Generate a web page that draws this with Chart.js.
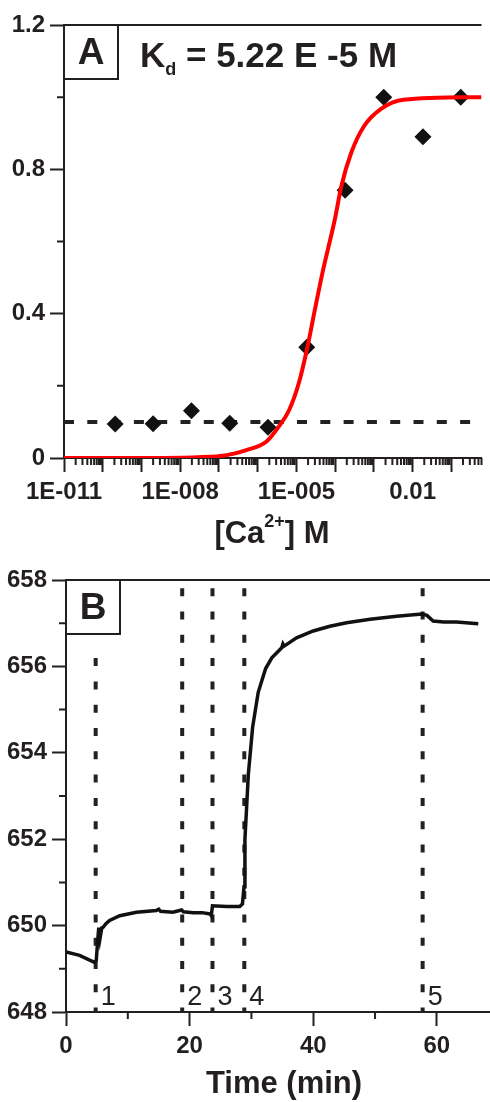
<!DOCTYPE html>
<html>
<head>
<meta charset="utf-8">
<script src="https://cdn.jsdelivr.net/npm/chart.js@4.4.0/dist/chart.umd.min.js"></script>
<style>
	body { margin: 0; background: #fff; width: 490px; height: 1102px; overflow: hidden; position: relative; }
	#boxA { position: absolute; left: 0; top: 0; }
	#boxB { position: absolute; left: 0; top: 560px; }
</style>
</head>
<body>
<div id="boxA"><canvas id="chartA" width="490" height="560"></canvas></div>
<div id="boxB"><canvas id="chartB" width="490" height="542"></canvas></div>

<script>
	// Panel A - calcium titration
	var concA = [2.1e-10, 2.0e-9, 1.95e-8, 1.9e-7, 1.85e-6, 1.85e-5, 1.8e-4, 1.8e-3, 1.85e-2, 1.75e-1];
	var fracA = [0.094, 0.095, 0.131, 0.096, 0.085, 0.307, 0.742, 1.0, 0.89, 1.0];
	// fitted curve
	var fitConc = [1e-11, 1.5e-9, 2.75e-8, 1.6e-7, 5.1e-7, 1.66e-6, 3.5e-6, 6.5e-6, 1.15e-5, 1.86e-5, 3.0e-5, 4.9e-5, 9.8e-5, 1.45e-4, 2.6e-4, 5.6e-4, 1.5e-3, 5.8e-3, 0.6];
	var fitFrac = [0, 0, 0.002, 0.008, 0.022, 0.045, 0.087, 0.133, 0.207, 0.30, 0.411, 0.522, 0.661, 0.754, 0.846, 0.92, 0.967, 0.993, 1.0];
	var baseLevel = 0.1;
	var xTickValsA = [1e-11, 1e-8, 1e-5, 0.01];
	var xTickLabelsA = ['1E-011', '1E-008', '1E-005', '0.01'];
	var yTickValsA = [0, 0.4, 0.8, 1.2];
	var yTickLabelsA = ['0', '0.4', '0.8', '1.2'];
	var yMinorA = [0.2, 0.6, 1.0];

	// Panel B - time trace
	var timeB = [0, 2.2, 4.6, 4.9, 5.1, 5.3, 5.5, 5.8, 6.0, 6.5, 7.05, 8.7, 11.4, 14.6, 15.0, 15.3, 17.3, 18.7, 19.0, 20.6,
		22.0, 23.3, 23.5, 23.7, 26.0, 28.1, 28.55, 28.8, 28.95, 29.5, 30.2, 31.1, 32.3, 33.3, 34.9, 35.1, 35.3, 37.3, 40.0, 42.7,
		45.4, 49.2, 53.5, 57.6, 58.4, 59.4, 61.1, 63.2, 66.7];
	var signalB = [649.39, 649.31, 649.15, 649.2, 649.6, 649.95, 649.7, 649.95, 649.96, 650.05, 650.12, 650.23, 650.31, 650.35, 650.38, 650.33, 650.31, 650.36, 650.32, 650.30,
		650.30, 650.27, 650.23, 650.46, 650.44, 650.44, 650.5, 650.9, 652.0, 653.5, 654.6, 655.4, 655.95, 656.2, 656.43, 656.52, 656.47, 656.66, 656.82, 656.93,
		657.01, 657.09, 657.16, 657.21, 657.18, 657.05, 657.03, 657.03, 656.99];
	var eventTimes = [4.8, 18.8, 23.7, 28.85, 57.7];
	var eventTops = [656.4, 658, 658, 658, 658];
	var eventLabels = ['1', '2', '3', '4', '5'];
	var xTickValsB = [0, 20, 40, 60];
	var xTickLabelsB = ['0', '20', '40', '60'];
	var xMinorB = [10, 30, 50];
	var yTickValsB = [648, 650, 652, 654, 656, 658];
	var yTickLabelsB = ['648', '650', '652', '654', '656', '658'];
	var yMinorB = [649, 651, 653, 655, 657];

	var ink = '#231f20';
	var fam = "'Liberation Sans', Arial, sans-serif";
	var tickFont = { family: fam, size: 24, weight: 'bold' };

	// log axis ticks: one per decade, minor at 2..9
	var majorXA = [];
	var minorXA = [];
	for (var d = -11; d <= -1; d++) {
		majorXA.push(Number('1e' + d));
		for (var k = 2; k <= 9; k++) {
			var mv = Number(k + 'e' + d);
			if (mv <= 0.6) minorXA.push(mv);
		}
	}

	function labelFor(vals, labels, v, log) {
		for (var i = 0; i < vals.length; i++) {
			var diff = log ? Math.abs(Math.log10(v) - Math.log10(vals[i])) : Math.abs(v - vals[i]);
			if (diff < 1e-6) return labels[i];
		}
		return '';
	}

	function drawMinorAndFrame(chart, minorX, minorY) {
		var ctx = chart.ctx, a = chart.chartArea;
		var xs = chart.scales.x, ys = chart.scales.y;
		ctx.save();
		ctx.strokeStyle = ink;
		ctx.lineWidth = 2;
		ctx.beginPath();
		ctx.moveTo(a.left, a.top);
		ctx.lineTo(a.right, a.top);
		minorX.forEach(function(v) {
			var px = xs.getPixelForValue(v);
			ctx.moveTo(px, a.bottom);
			ctx.lineTo(px, a.bottom + 7);
		});
		minorY.forEach(function(v) {
			var py = ys.getPixelForValue(v);
			ctx.moveTo(a.left, py);
			ctx.lineTo(a.left - 7, py);
		});
		ctx.stroke();
		ctx.restore();
	}

	function drawPanelBox(chart, letter) {
		var ctx = chart.ctx, a = chart.chartArea;
		ctx.save();
		ctx.strokeStyle = ink;
		ctx.lineWidth = 2;
		ctx.strokeRect(a.left, a.top, 54, 54);
		ctx.fillStyle = ink;
		ctx.font = 'bold 37px ' + fam;
		ctx.textAlign = 'center';
		ctx.textBaseline = 'alphabetic';
		ctx.fillText(letter, a.left + 27, a.top + 39);
		ctx.restore();
	}

	// draws text pieces in a row, with raised / lowered parts
	function drawRich(ctx, parts, x, baseline, center) {
		var w = 0;
		parts.forEach(function(p) {
			ctx.font = 'bold ' + p.size + 'px ' + fam;
			p.w = ctx.measureText(p.t).width;
			w += p.w;
		});
		var cx = center ? x - w / 2 : x;
		ctx.textAlign = 'left';
		ctx.textBaseline = 'alphabetic';
		parts.forEach(function(p) {
			ctx.font = 'bold ' + p.size + 'px ' + fam;
			ctx.fillText(p.t, cx, baseline + (p.dy || 0));
			cx += p.w;
		});
	}

	var decorA = {
		id: 'decorA',
		afterDraw: function(chart) {
			drawMinorAndFrame(chart, minorXA, yMinorA);
			drawPanelBox(chart, 'A');
			var ctx = chart.ctx;
			ctx.save();
			ctx.fillStyle = ink;
			drawRich(ctx, [
				{ t: 'K', size: 35 },
				{ t: 'd', size: 18, dy: 8 },
				{ t: ' = 5.22 E -5 M', size: 35 }
			], 140, 67, false);
			drawRich(ctx, [
				{ t: '[Ca', size: 31 },
				{ t: '2+', size: 18, dy: -16 },
				{ t: '] M', size: 31 }
			], 272, 543, true);
			ctx.restore();
		}
	};

	var decorB = {
		id: 'decorB',
		afterDraw: function(chart) {
			drawMinorAndFrame(chart, xMinorB, yMinorB);
			drawPanelBox(chart, 'B');
			var ctx = chart.ctx, xs = chart.scales.x, ys = chart.scales.y;
			ctx.save();
			ctx.fillStyle = '#222';
			ctx.font = '500 27px ' + fam;
			ctx.textAlign = 'left';
			ctx.textBaseline = 'alphabetic';
			for (var i = 0; i < eventTimes.length; i++) {
				ctx.fillText(eventLabels[i], xs.getPixelForValue(eventTimes[i]) + 5, ys.getPixelForValue(648) - 7);
			}
			ctx.fillStyle = ink;
			drawRich(ctx, [{ t: 'Time (min)', size: 31 }], 284, 533, true);
			ctx.restore();
		}
	};

	function pairs(xs, ys) {
		return xs.map(function(x, i) { return { x: x, y: ys[i] }; });
	}

	var chartA = new Chart(document.getElementById('chartA').getContext('2d'), {
		type: 'scatter',
		data: {
			datasets: [{
				data: pairs(fitConc, fitFrac),
				showLine: true,
				borderColor: '#ff0000',
				borderWidth: 4,
				pointRadius: 0,
				cubicInterpolationMode: 'monotone'
			}, {
				data: pairs(concA, fracA),
				pointStyle: 'rectRot',
				pointRadius: 8.5,
				pointBackgroundColor: '#111',
				pointBorderWidth: 0
			}, {
				data: [{ x: 1e-11, y: baseLevel }, { x: 0.6, y: baseLevel }],
				showLine: true,
				borderColor: '#222',
				borderWidth: 4,
				borderDash: [10, 13.3],
				pointRadius: 0
			}]
		},
		options: {
			responsive: false,
			animation: false,
			devicePixelRatio: 1,
			layout: { padding: { top: 25, right: 0, bottom: 0, left: 0 } },
			plugins: { legend: { display: false }, tooltip: { enabled: false } },
			scales: {
				x: {
					type: 'logarithmic',
					min: 1e-11,
					max: 0.6,
					afterBuildTicks: function(s) { s.ticks = majorXA.map(function(v) { return { value: v }; }); },
					afterFit: function(s) { s.height = 102; },
					ticks: {
						autoSkip: false, maxRotation: 0, padding: 6, font: tickFont, color: ink,
						callback: function(v) { return labelFor(xTickValsA, xTickLabelsA, v, true); }
					},
					grid: { drawOnChartArea: false, tickLength: 14, tickWidth: 2, tickColor: ink },
					border: { color: ink, width: 2 }
				},
				y: {
					min: 0,
					max: 1.2,
					afterBuildTicks: function(s) { s.ticks = yTickValsA.map(function(v) { return { value: v }; }); },
					afterFit: function(s) { s.width = 64; },
					ticks: {
						padding: 5, font: tickFont, color: ink,
						callback: function(v) { return labelFor(yTickValsA, yTickLabelsA, v, false); }
					},
					grid: { drawOnChartArea: false, tickLength: 14, tickWidth: 2, tickColor: ink },
					border: { color: ink, width: 2 }
				}
			}
		},
		plugins: [decorA]
	});

	var setsB = [{
		data: pairs(timeB, signalB),
		showLine: true,
		borderColor: '#111',
		borderWidth: 3.5,
		pointRadius: 0,
		tension: 0
	}];
	for (var e = 0; e < eventTimes.length; e++) {
		setsB.push({
			data: [{ x: eventTimes[e], y: 648 }, { x: eventTimes[e], y: eventTops[e] }],
			showLine: true,
			borderColor: '#222',
			borderWidth: 4,
			borderDash: [8, 15.3],
			borderDashOffset: 3.6,
			pointRadius: 0
		});
	}

	var chartB = new Chart(document.getElementById('chartB').getContext('2d'), {
		type: 'scatter',
		data: { datasets: setsB },
		options: {
			responsive: false,
			animation: false,
			devicePixelRatio: 1,
			layout: { padding: { top: 20, right: 0, bottom: 0, left: 0 } },
			plugins: { legend: { display: false }, tooltip: { enabled: false } },
			scales: {
				x: {
					min: 0,
					max: 68.6,
					afterBuildTicks: function(s) { s.ticks = xTickValsB.map(function(v) { return { value: v }; }); },
					afterFit: function(s) { s.height = 90; },
					ticks: {
						autoSkip: false, maxRotation: 0, padding: 6, font: tickFont, color: ink,
						callback: function(v) { return labelFor(xTickValsB, xTickLabelsB, v, false); }
					},
					grid: { drawOnChartArea: false, tickLength: 14, tickWidth: 2, tickColor: ink },
					border: { color: ink, width: 2 }
				},
				y: {
					min: 648,
					max: 658,
					afterBuildTicks: function(s) { s.ticks = yTickValsB.map(function(v) { return { value: v }; }); },
					afterFit: function(s) { s.width = 66; },
					ticks: {
						padding: 5, font: tickFont, color: ink,
						callback: function(v) { return labelFor(yTickValsB, yTickLabelsB, v, false); }
					},
					grid: { drawOnChartArea: false, tickLength: 14, tickWidth: 2, tickColor: ink },
					border: { color: ink, width: 2 }
				}
			}
		},
		plugins: [decorB]
	});
</script>
</body>
</html>
